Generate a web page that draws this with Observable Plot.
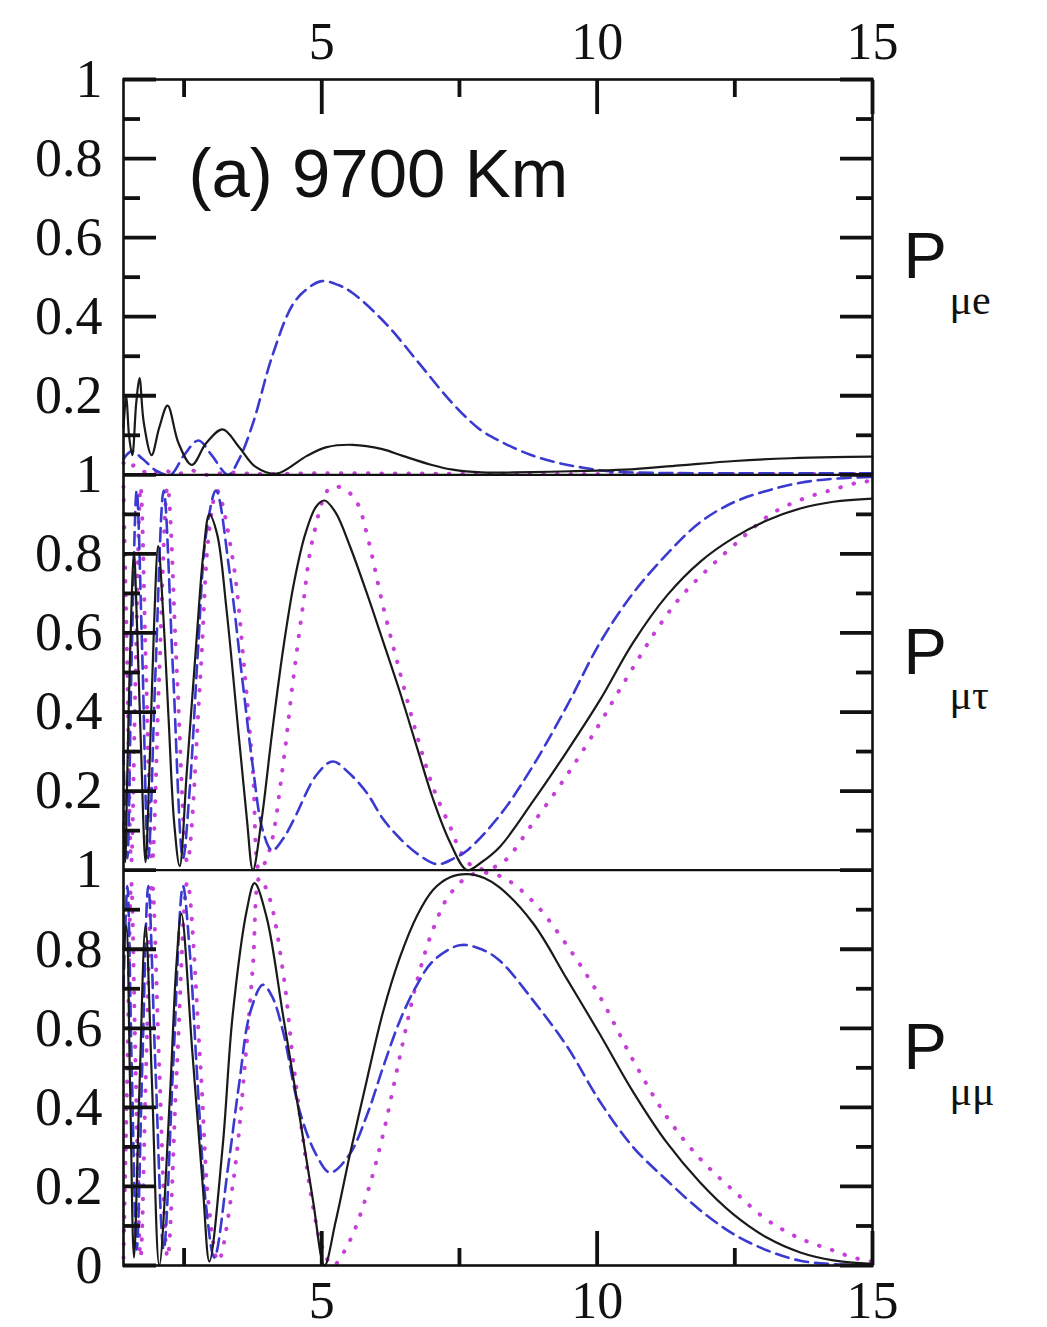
<!DOCTYPE html>
<html><head><meta charset="utf-8">
<script src="https://cdn.jsdelivr.net/npm/d3@7"></script>
<script src="https://cdn.jsdelivr.net/npm/@observablehq/plot@0.6"></script>
<style>html,body{margin:0;padding:0;background:#fff;} #chart{width:1047px;height:1327px;}</style>
</head><body><div id="chart"></div>
<script>
// ---- axis definitions ----
const xDomain = [1.4, 15];
const xMajorTicks = [5, 10, 15];
const xMinorTicks = [2.5, 7.5, 12.5];
const yMajorTicks = [0, 0.2, 0.4, 0.6, 0.8, 1];
const yTickLabels = ["0", "0.2", "0.4", "0.6", "0.8", "1"];
const yMinorTicks = [0.1, 0.3, 0.5, 0.7, 0.9];
const panelNames = ["μe", "μτ", "μμ"];   // top to bottom
const panelTitle = "(a) 9700 Km";

// ---- P_mu e (top panel) ----
const pme_solid = [[1.40,0.12],[1.45,0.20],[1.50,0.10],[1.56,0.05],[1.63,0.18],[1.69,0.245],[1.77,0.13],[1.91,0.05],[2.05,0.12],[2.20,0.175],[2.40,0.08],[2.64,0.025],[2.90,0.08],[3.20,0.115],[3.50,0.07],[3.80,0.02],[4.18,0.003],[4.73,0.048],[5.09,0.07],[5.56,0.076],[6.10,0.065],[6.47,0.048],[7.00,0.025],[7.38,0.013],[7.90,0.006],[8.50,0.006],[9.50,0.009],[10.50,0.013],[11.50,0.024],[12.50,0.035],[13.50,0.042],[14.30,0.045],[15.00,0.046]];
const pme_dashed = [[1.40,0.04],[1.55,0.06],[1.75,0.04],[2.00,0.01],[2.25,0.0],[2.50,0.05],[2.76,0.087],[3.00,0.05],[3.30,0.0],[3.50,0.04],[3.75,0.13],[4.10,0.30],[4.47,0.43],[4.73,0.47],[5.00,0.49],[5.30,0.48],[5.56,0.46],[6.18,0.38],[6.78,0.28],[7.38,0.18],[7.87,0.115],[8.24,0.085],[8.80,0.05],[9.30,0.03],[9.75,0.018],[10.30,0.008],[11.00,0.005],[12.00,0.004],[13.50,0.004],[15.00,0.004]];
const pme_dotted = [[1.40,0.03],[1.50,0.015],[1.60,0.025],[1.75,0.01],[1.90,0.0],[2.10,0.015],[2.35,0.0],[2.60,0.012],[2.90,0.0],[3.30,0.006],[3.80,0.002],[5.00,0.004],[7.00,0.003],[10.00,0.002],[15.00,0.002]];

// ---- P_mu tau (middle panel) ----
const pmt_solid = [[1.40,0.12],[1.43,0.02],[1.47,0.25],[1.52,0.55],[1.59,0.80],[1.65,0.60],[1.72,0.30],[1.80,0.02],[1.87,0.25],[1.95,0.60],[2.03,0.82],[2.12,0.65],[2.22,0.38],[2.32,0.12],[2.42,0.01],[2.55,0.25],[2.73,0.59],[2.85,0.80],[2.96,0.90],[3.10,0.85],[3.27,0.66],[3.50,0.33],[3.64,0.13],[3.75,0.0],[3.90,0.12],[4.10,0.35],[4.30,0.56],[4.50,0.73],[4.70,0.85],[4.90,0.92],[5.05,0.935],[5.25,0.905],[5.51,0.82],[5.82,0.70],[6.11,0.58],[6.42,0.45],[6.73,0.31],[7.02,0.18],[7.33,0.07],[7.64,0.0],[7.90,0.02],[8.24,0.06],[8.84,0.175],[9.45,0.30],[10.05,0.43],[10.65,0.575],[11.27,0.695],[11.87,0.78],[12.47,0.84],[13.09,0.885],[13.69,0.915],[14.29,0.932],[15.00,0.94]];
const pmt_dashed = [[1.40,0.30],[1.47,0.03],[1.55,0.55],[1.64,0.96],[1.74,0.55],[1.85,0.03],[1.98,0.50],[2.13,0.96],[2.30,0.50],[2.48,0.03],[2.60,0.20],[2.75,0.55],[2.90,0.85],[3.08,0.96],[3.33,0.75],[3.56,0.48],[3.75,0.26],[3.93,0.10],[4.10,0.05],[4.30,0.08],[4.50,0.13],[4.90,0.24],[5.20,0.275],[5.50,0.245],[5.82,0.195],[6.11,0.13],[6.42,0.08],[6.75,0.04],[7.10,0.015],[7.40,0.03],[7.64,0.05],[8.24,0.14],[8.84,0.265],[9.45,0.415],[10.05,0.575],[10.65,0.70],[11.27,0.80],[11.87,0.88],[12.47,0.93],[13.09,0.96],[13.69,0.98],[14.29,0.99],[15.00,0.995]];
const pmt_dotted = [[1.40,0.97],[1.47,0.50],[1.54,0.02],[1.62,0.50],[1.71,0.97],[1.81,0.50],[1.92,0.02],[2.05,0.50],[2.20,0.97],[2.37,0.50],[2.56,0.02],[2.80,0.50],[2.95,0.85],[3.10,0.96],[3.38,0.79],[3.60,0.50],[3.75,0.25],[3.87,0.0],[4.05,0.05],[4.30,0.27],[4.47,0.47],[4.65,0.66],[4.84,0.84],[5.15,0.967],[5.40,0.965],[5.64,0.93],[5.82,0.85],[6.11,0.67],[6.42,0.50],[6.73,0.34],[7.02,0.21],[7.33,0.11],[7.55,0.04],[7.80,0.005],[8.24,0.015],[8.84,0.12],[9.45,0.24],[10.00,0.36],[10.36,0.445],[10.73,0.53],[11.09,0.61],[11.51,0.69],[12.00,0.76],[12.55,0.83],[13.15,0.90],[13.75,0.94],[14.29,0.963],[14.73,0.98],[15.00,0.985]];

// ---- P_mu mu (bottom panel) ----
const pmm_solid = [[1.40,0.80],[1.45,0.86],[1.52,0.45],[1.59,0.02],[1.69,0.45],[1.80,0.86],[1.92,0.45],[2.05,0.0],[2.24,0.42],[2.36,0.76],[2.45,0.89],[2.65,0.54],[2.84,0.20],[2.96,0.01],[3.20,0.30],[3.38,0.63],[3.64,0.90],[3.78,0.967],[4.00,0.88],[4.30,0.63],[4.60,0.375],[4.84,0.165],[5.05,0.0],[5.25,0.11],[5.51,0.28],[5.82,0.47],[6.11,0.64],[6.42,0.78],[6.73,0.885],[7.02,0.95],[7.33,0.982],[7.64,0.99],[7.95,0.98],[8.24,0.955],[8.84,0.865],[9.45,0.725],[10.05,0.585],[10.65,0.44],[11.27,0.31],[11.87,0.21],[12.47,0.13],[13.09,0.07],[13.69,0.033],[14.29,0.013],[15.00,0.004]];
const pmm_dashed = [[1.40,0.70],[1.47,0.96],[1.55,0.50],[1.64,0.04],[1.74,0.50],[1.85,0.96],[1.98,0.50],[2.13,0.04],[2.30,0.50],[2.48,0.96],[2.60,0.80],[2.75,0.45],[2.90,0.15],[3.05,0.02],[3.30,0.25],[3.50,0.46],[3.70,0.64],[3.93,0.71],[4.10,0.68],[4.30,0.59],[4.60,0.39],[4.90,0.28],[5.15,0.235],[5.50,0.28],[5.82,0.38],[6.11,0.50],[6.42,0.62],[6.73,0.71],[7.02,0.77],[7.50,0.81],[7.90,0.80],[8.24,0.77],[8.84,0.67],[9.45,0.555],[10.05,0.415],[10.65,0.30],[11.27,0.215],[11.87,0.14],[12.47,0.08],[13.09,0.038],[13.69,0.012],[14.30,0.003],[15.00,0.0]];
const pmm_dotted = [[1.40,0.02],[1.47,0.50],[1.54,0.97],[1.62,0.50],[1.71,0.02],[1.81,0.50],[1.92,0.97],[2.05,0.50],[2.20,0.02],[2.37,0.50],[2.56,0.97],[2.80,0.50],[2.95,0.15],[3.12,0.01],[3.40,0.22],[3.60,0.50],[3.75,0.76],[3.87,0.98],[4.05,0.93],[4.30,0.74],[4.47,0.53],[4.65,0.33],[4.84,0.15],[5.00,0.05],[5.20,0.0],[5.50,0.06],[5.82,0.18],[6.11,0.33],[6.42,0.53],[6.73,0.72],[7.02,0.85],[7.33,0.94],[7.75,0.99],[8.24,0.985],[8.84,0.92],[9.45,0.81],[10.05,0.68],[10.65,0.52],[11.27,0.375],[11.87,0.27],[12.47,0.19],[13.09,0.115],[13.69,0.068],[14.29,0.038],[14.65,0.02],[15.00,0.01]];

// ---- build a long table: each panel stacked in its own unit band of y ----
const seriesByPanel = [
  {solid: pme_solid, dashed: pme_dashed, dotted: pme_dotted},
  {solid: pmt_solid, dashed: pmt_dashed, dotted: pmt_dotted},
  {solid: pmm_solid, dashed: pmm_dashed, dotted: pmm_dotted}
];
const nPanels = panelNames.length;
const offsetOf = i => nPanels - 1 - i;
const rows = [];
seriesByPanel.forEach((s, i) => {
  for (const style of ["solid", "dashed", "dotted"]) {
    for (const [x, y] of s[style]) rows.push({panel: panelNames[i], style, x, y: y + offsetOf(i)});
  }
});
const round = v => Math.round(v * 1000) / 1000;
const majorY = [...new Set(panelNames.flatMap((p, i) => yMajorTicks.map(t => round(t + offsetOf(i)))))];
const minorY = panelNames.flatMap((p, i) => yMinorTicks.map(t => round(t + offsetOf(i))));
const labelY = [], labelText = new Map();
panelNames.forEach((p, i) => {
  yMajorTicks.forEach((t, k) => {
    if (t === 0 && i !== nPanels - 1) return; // shared with the panel below (labelled "1")
    const v = round(t + offsetOf(i));
    labelY.push(v); labelText.set(v, yTickLabels[k]);
  });
});
const dividers = panelNames.slice(1).map((p, i) => offsetOf(i));
const panelLabels = panelNames.map((p, i) => ({sub: p, yc: offsetOf(i) + 0.55}));

const serif = "'Liberation Serif', 'Times New Roman', serif";
const sans = "'Liberation Sans', Arial, sans-serif";
const ink = "#111";
const tickOpts = {tickFormat: () => "", color: ink, strokeWidth: 3.8, label: null};

const chart = Plot.plot({
  width: 1047, height: 1327,
  marginTop: 79, marginBottom: 62, marginLeft: 123, marginRight: 175,
  x: {domain: xDomain, axis: null},
  y: {domain: [0, nPanels], axis: null},
  style: {background: "#fff", overflow: "visible"},
  marks: [
    Plot.line(rows.filter(d => d.style === "dotted"), {x: "x", y: "y", z: "panel", stroke: "#c63fd8", strokeWidth: 4, strokeDasharray: "0.5 13", strokeLinecap: "round", curve: "catmull-rom"}),
    Plot.line(rows.filter(d => d.style === "dashed"), {x: "x", y: "y", z: "panel", stroke: "#3a3ad0", strokeWidth: 2.6, strokeDasharray: "13 7", curve: "catmull-rom"}),
    Plot.line(rows.filter(d => d.style === "solid"), {x: "x", y: "y", z: "panel", stroke: "#1a1a1a", strokeWidth: 2.2, curve: "catmull-rom"}),
    Plot.ruleY(dividers, {stroke: ink, strokeWidth: 2.4}),
    Plot.frame({stroke: ink, strokeWidth: 2.6}),
    // inward ticks
    Plot.axisY(majorY, {anchor: "left", tickSize: -33, ...tickOpts}),
    Plot.axisY(minorY, {anchor: "left", tickSize: -17, ...tickOpts}),
    Plot.axisY(majorY, {anchor: "right", tickSize: -33, ...tickOpts}),
    Plot.axisY(minorY, {anchor: "right", tickSize: -17, ...tickOpts}),
    Plot.axisX(xMajorTicks, {anchor: "bottom", tickSize: -34, ...tickOpts}),
    Plot.axisX(xMinorTicks, {anchor: "bottom", tickSize: -17, ...tickOpts}),
    Plot.axisX(xMajorTicks, {anchor: "top", tickSize: -34, ...tickOpts}),
    Plot.axisX(xMinorTicks, {anchor: "top", tickSize: -17, ...tickOpts}),
    // tick labels
    Plot.axisY(labelY, {anchor: "left", tickSize: 0, tickPadding: 21, tickFormat: v => labelText.get(round(v)), fontSize: 54, fontFamily: serif, color: ink, label: null}),
    Plot.axisX(xMajorTicks, {anchor: "top", tickSize: 0, tickPadding: 21, tickFormat: d => String(d), fontSize: 52, fontFamily: serif, color: ink, label: null}),
    Plot.axisX(xMajorTicks, {anchor: "bottom", tickSize: 0, tickPadding: 16, tickFormat: d => String(d), fontSize: 52, fontFamily: serif, color: ink, label: null}),
    // panel title and probability labels
    Plot.text([panelTitle], {frameAnchor: "top-left", text: d => d, dx: 65, dy: 68, lineAnchor: "top", textAnchor: "start", fontSize: 69, fontFamily: sans, fill: ink}),
    Plot.text(panelLabels, {y: "yc", frameAnchor: "right", text: () => "P", dx: 31, textAnchor: "start", lineAnchor: "middle", fontSize: 65, fontFamily: sans, fill: ink}),
    Plot.text(panelLabels, {y: "yc", frameAnchor: "right", text: "sub", dx: 77, dy: 43, textAnchor: "start", lineAnchor: "middle", fontSize: 42, fontFamily: serif, fill: ink})
  ]
});
document.getElementById("chart").appendChild(chart);
</script>
</body></html>
